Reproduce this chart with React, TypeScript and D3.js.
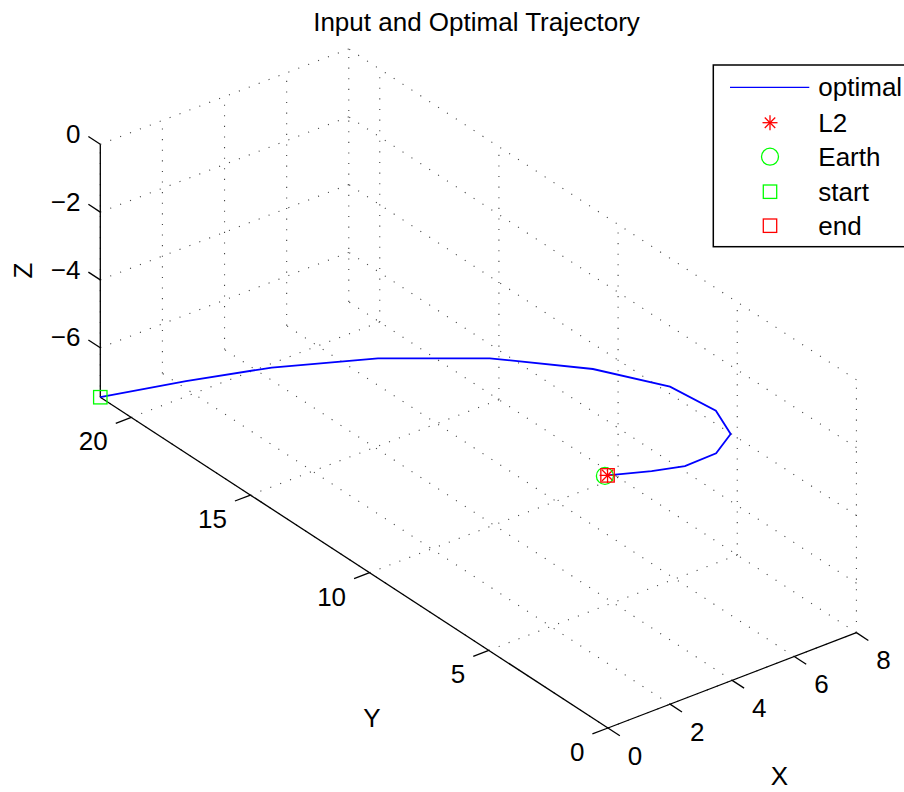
import React from "react";
import * as d3 from "d3";

// trajectory samples (x, y, z)
const trajX = [0, 1.70, 3.28, 4.98, 6.51, 7.58, 7.96, 7.88, 7.35, 6.56, 5.74, 5.12, 4.20];
const trajY = [21.3, 19.92, 18.38, 16.14, 13.44, 10.51, 7.77, 5.74, 4.43, 4.01, 4.25, 4.84, 5.49];
const trajZ = [-7.46, -6.95, -6.4, -5.7, -5.0, -4.35, -3.75, -3.5, -3.4, -3.5, -3.7, -3.9, -4.0];

const l2Point = [4.20, 5.49, -4.0];
const earthPoint = [4.13, 5.51, -4.0];

const xTicks = [0, 2, 4, 6, 8];
const yTicks = [0, 5, 10, 15, 20];
const zTicks = [-6, -4, -2, 0];
const xLim = [0, 8];
const yLim = [0, 21.3];
const zLim = [-7.46, 0];

const legendLabels = ["optimal", "L2", "Earth", "start", "end"];

const W = 904;
const H = 792;
const FONT = "Liberation Sans, Arial, sans-serif";
const FS = 26;

// matlab default view(3): az -37.5, el 30
const az = (-37.5 * Math.PI) / 180;
const el = (30 * Math.PI) / 180;
const unit = 39.15;

const hOf = (x, y, z) => x * Math.cos(az) + y * Math.sin(az);
const vOf = (x, y, z) =>
  -Math.sin(az) * Math.sin(el) * x + Math.cos(az) * Math.sin(el) * y + Math.cos(el) * z;

const corners = [];
xLim.forEach((x) => yLim.forEach((y) => zLim.forEach((z) => corners.push([x, y, z]))));
const hExt = d3.extent(corners, (c) => hOf(c[0], c[1], c[2]));
const vExt = d3.extent(corners, (c) => vOf(c[0], c[1], c[2]));

const hScale = d3.scaleLinear().domain(hExt).range([100.3, 100.3 + unit * (hExt[1] - hExt[0])]);
const vScale = d3.scaleLinear().domain(vExt).range([728, 728 - unit * (vExt[1] - vExt[0])]);

const proj = (x, y, z) => [hScale(hOf(x, y, z)), vScale(vOf(x, y, z))];

export default function App() {
  const [x0, x1] = xLim;
  const [y0, y1] = yLim;
  const [z0, z1] = zLim;

  // grid segments on the three back planes
  const grid = [];
  xTicks.forEach((x) => {
    grid.push([[x, y1, z0], [x, y1, z1]]);
    grid.push([[x, y0, z0], [x, y1, z0]]);
  });
  yTicks.forEach((y) => {
    grid.push([[x1, y, z0], [x1, y, z1]]);
    grid.push([[x0, y, z0], [x1, y, z0]]);
  });
  zTicks.forEach((z) => {
    grid.push([[x0, y1, z], [x1, y1, z]]);
    grid.push([[x1, y0, z], [x1, y1, z]]);
  });

  const seg = (a, b) => {
    const p = proj(a[0], a[1], a[2]);
    const q = proj(b[0], b[1], b[2]);
    return { x1: p[0], y1: p[1], x2: q[0], y2: q[1] };
  };

  const pts = trajX.map((x, i) => proj(x, trajY[i], trajZ[i]));
  const line = d3.line()(pts);

  const start = pts[0];
  const end = pts[pts.length - 1];
  const l2 = proj(l2Point[0], l2Point[1], l2Point[2]);
  const earth = proj(earthPoint[0], earthPoint[1], earthPoint[2]);

  const star = (cx, cy, r, key) => (
    <g key={key} stroke="#ff0000" strokeWidth={1.3}>
      <line x1={cx - r} y1={cy} x2={cx + r} y2={cy} />
      <line x1={cx} y1={cy - r} x2={cx} y2={cy + r} />
      <line x1={cx - r * 0.7} y1={cy - r * 0.7} x2={cx + r * 0.7} y2={cy + r * 0.7} />
      <line x1={cx - r * 0.7} y1={cy + r * 0.7} x2={cx + r * 0.7} y2={cy - r * 0.7} />
    </g>
  );
  const square = (cx, cy, color, key) => (
    <rect key={key} x={cx - 6.7} y={cy - 6.7} width={13.4} height={13.4} fill="none" stroke={color} strokeWidth={1.3} />
  );

  const tl = 0.5; // tick length in data units
  const legRows = [87.3, 122.7, 156.7, 191.7, 225.7];

  return (
    <svg width={W} height={H} style={{ position: "absolute", left: 0, top: 0, background: "#fff" }} fontFamily={FONT}>
      <rect x={0} y={0} width={W} height={H} fill="#fff" />
      <g stroke="#444" strokeWidth={1.1} strokeDasharray="1.1 9.5">
        {grid.map((g, i) => (
          <line key={i} {...seg(g[0], g[1])} />
        ))}
      </g>

      {/* axes */}
      <g stroke="#000" strokeWidth={1.3}>
        <line {...seg([x0, y1, z0], [x0, y1, z1])} />
        <line {...seg([x0, y1, z0], [x0, y0, z0])} />
        <line {...seg([x0, y0, z0], [x1, y0, z0])} />
        {zTicks.map((z) => <line key={"zt" + z} {...seg([x0, y1, z], [x0, y1 + tl, z])} />)}
        {yTicks.map((y) => <line key={"yt" + y} {...seg([x0, y, z0], [x0 - tl, y, z0])} />)}
        {xTicks.map((x) => <line key={"xt" + x} {...seg([x, y0, z0], [x, y0 - tl, z0])} />)}
      </g>

      <g fontSize={FS} fill="#000">
        {zTicks.map((z) => {
          const p = proj(x0, y1 + tl, z);
          return (
            <text key={"zl" + z} x={p[0] - 8} y={p[1] - 2.5} textAnchor="end" dominantBaseline="central">
              {z < 0 ? "\u2212" + Math.abs(z) : z}
            </text>
          );
        })}
        {yTicks.map((y) => {
          const p = proj(x0 - tl, y, z0);
          return (
            <text key={"yl" + y} x={p[0] - 8} y={p[1] + 18} textAnchor="end" dominantBaseline="central">
              {y}
            </text>
          );
        })}
        {xTicks.map((x) => {
          const p = proj(x, y0 - tl, z0);
          return (
            <text key={"xl" + x} x={p[0] + 8} y={p[1] + 20} textAnchor="start" dominantBaseline="central">
              {x}
            </text>
          );
        })}
        <text x={23} y={270.5} textAnchor="middle" dominantBaseline="central" transform="rotate(-90 23 270.5)">Z</text>
        <text x={372} y={718} textAnchor="middle" dominantBaseline="central">Y</text>
        <text x={779.5} y={776} textAnchor="middle" dominantBaseline="central">X</text>
        <text x={476.5} y={31} textAnchor="middle">Input and Optimal Trajectory</text>
      </g>

      {/* data */}
      <path d={line} fill="none" stroke="#0000ff" strokeWidth={1.8} />
      {star(l2[0], l2[1], 8, "l2")}
      <circle cx={earth[0]} cy={earth[1]} r={8.5} fill="none" stroke="#00ff00" strokeWidth={1.3} />
      {square(start[0], start[1], "#00ff00", "s")}
      {square(end[0], end[1], "#ff0000", "e")}

      {/* legend */}
      <rect x={713.3} y={65} width={220} height={181.7} fill="#fff" stroke="#000" strokeWidth={1.5} />
      <line x1={730} y1={legRows[0]} x2={809.3} y2={legRows[0]} stroke="#0000ff" strokeWidth={1.3} />
      {star(770, legRows[1], 7.5, "ls")}
      <circle cx={770} cy={legRows[2]} r={8.5} fill="none" stroke="#00ff00" strokeWidth={1.3} />
      {square(770, legRows[3], "#00ff00", "lss")}
      {square(770, legRows[4], "#ff0000", "les")}
      <g fontSize={FS} fill="#000">
        {legendLabels.map((t, i) => (
          <text key={t} x={818.3} y={legRows[i]} dominantBaseline="central">{t}</text>
        ))}
      </g>
    </svg>
  );
}
